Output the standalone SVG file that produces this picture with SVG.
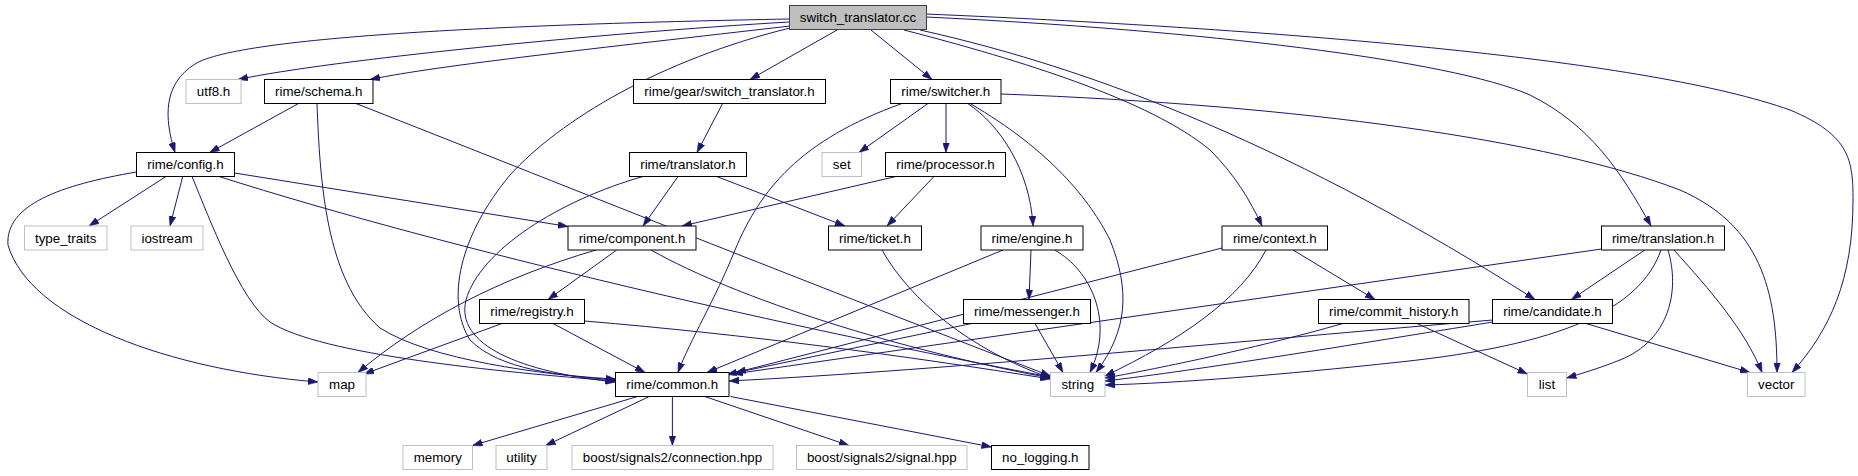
<svg xmlns="http://www.w3.org/2000/svg" width="1858" height="476" viewBox="0 0 1858 476">
<style>
text{font-family:"Liberation Sans",Arial,Helvetica,sans-serif;font-size:13.33px;text-anchor:middle;fill:#000}
.n rect{fill:#fff;stroke:#000;stroke-width:1}
.x rect{fill:#fff;stroke:#bfbfbf;stroke-width:1}
.m rect{fill:#bfbfbf;stroke:#404040;stroke-width:1}
#edges path{fill:none;stroke:#191970;stroke-width:1;marker-end:url(#a)}
</style>
<defs>
<marker id="a" markerWidth="10" markerHeight="7" refX="10" refY="3.5" orient="auto" markerUnits="userSpaceOnUse"><path d="M0,0 L10,3.5 L0,7 z" fill="#191970" stroke="#191970" stroke-width="0.5"/></marker>
</defs>
<rect width="1858" height="476" fill="#fff"/>
<g id="edges">
<path d="M789,19 C520,24 240,36 195,64 C163,84 164,118 175,152.5"/>
<path d="M789,22 C600,33 330,60 238,79.5"/>
<path d="M790,26 C600,48 440,65 370,79.5"/>
<path d="M837,30 L750,79.5"/>
<path d="M871,30 L932,79.5"/>
<path d="M790,28 C660,60 560,120 510,175 C460,235 445,300 470,340 C500,370 560,376 615.5,379"/>
<path d="M298.5,103.5 L209.6,152.5"/>
<path d="M317,103.5 C320,180 325,280 380,328 C430,360 540,374 615.5,380"/>
<path d="M356,103.5 C500,160 800,280 1050.5,376"/>
<path d="M166,176.5 L89,226"/>
<path d="M182.7,176.5 L170,226"/>
<path d="M136.5,172 C60,185 5,205 8,245 C30,320 170,370 318,382"/>
<path d="M192,176.5 C210,220 240,300 270,322 C320,355 500,372 615.5,381"/>
<path d="M219,176.5 C450,250 800,330 1050.5,377"/>
<path d="M234.5,173 L568,226.5"/>
<path d="M722.6,103.5 L697,152.5"/>
<path d="M678,176.5 L643,226"/>
<path d="M716.7,176.5 L845,226"/>
<path d="M643,176.5 C560,200 480,250 466,300 C455,345 520,372 615.5,382"/>
<path d="M928,103.5 L859,152.5"/>
<path d="M946,103.5 L946,152.5"/>
<path d="M967.7,103.5 C1000,125 1030,170 1033,226"/>
<path d="M970,103.5 C1050,150 1090,200 1110,240 C1130,290 1128,330 1096,372.5"/>
<path d="M902,103.5 C800,140 760,190 735,250 C715,300 690,340 678,372.5"/>
<path d="M1001,94 C1300,105 1550,140 1680,190 C1760,225 1777,290 1777,372.5"/>
<path d="M904,30 C1020,60 1150,100 1210,150 C1235,175 1250,200 1262,226"/>
<path d="M920,30 C1100,70 1300,150 1535,299.5"/>
<path d="M926,17 C1200,30 1450,60 1530,95 C1590,125 1620,170 1651,226"/>
<path d="M926,14 C1300,30 1650,60 1790,110 C1850,135 1853,160 1853,200 C1853,280 1830,330 1792,372.5"/>
<path d="M1293,250 L1375,299.5"/>
<path d="M1266,250 C1240,300 1180,340 1105,376"/>
<path d="M1222,248 L736,372.5"/>
<path d="M1343,323.5 C1250,350 1150,370 1105,378"/>
<path d="M1417,323.5 L1527.5,374"/>
<path d="M1586,323.5 L1750,372.5"/>
<path d="M1493,322 C1350,345 1200,370 1105,381"/>
<path d="M1493,320 C1250,340 950,370 729,381"/>
<path d="M1644.8,250 L1571.4,299.5"/>
<path d="M1601.5,249 L733,374"/>
<path d="M1661,250 C1640,310 1560,345 1400,362 C1280,375 1180,383 1105,385"/>
<path d="M1668,250 C1680,290 1670,340 1620,360 C1600,368 1580,374 1566.5,378"/>
<path d="M1674,250 C1710,290 1745,330 1762,372.5"/>
<path d="M616.7,250 L548,299.5"/>
<path d="M596,250 C500,278 420,320 358,372.5"/>
<path d="M651,250 C740,300 900,350 1050.5,378"/>
<path d="M502,323.5 L364,374"/>
<path d="M553,323.5 L645,372.5"/>
<path d="M584.5,321 C750,335 900,355 1050.5,379"/>
<path d="M896,176.5 L682,226"/>
<path d="M934,176.5 L887,226"/>
<path d="M882,250 C910,300 970,350 1050.5,378"/>
<path d="M1031,250 L1029,299.5"/>
<path d="M1003,250 L707,372.5"/>
<path d="M1054.7,250 C1090,270 1115,320 1090,372.5"/>
<path d="M971.7,323.5 L727,374.5"/>
<path d="M1035,323.5 L1063,372.5"/>
<path d="M637.6,396.5 L472.5,445.5"/>
<path d="M649.4,396.5 L545.7,445.5"/>
<path d="M672.4,396.5 L672.4,445.5"/>
<path d="M704.8,396.5 L849,445.5"/>
<path d="M730.5,396.5 L991.5,447"/>
</g>
<g id="switch_translator_cc" class="m"><rect x="789.5" y="5.5" width="137" height="24"/><text x="858" y="22">switch_translator.cc</text></g>
<g id="utf8_h" class="x"><rect x="186" y="79.5" width="55" height="24"/><text x="213.5" y="96">utf8.h</text></g>
<g id="rime_schema_h" class="n"><rect x="264.5" y="79.5" width="108.5" height="24"/><text x="318.75" y="96">rime/schema.h</text></g>
<g id="rime_gear_switch_translator_h" class="n"><rect x="633.5" y="79.5" width="192" height="24"/><text x="729.5" y="96">rime/gear/switch_translator.h</text></g>
<g id="rime_switcher_h" class="n"><rect x="890.5" y="79.5" width="110.5" height="24"/><text x="945.75" y="96">rime/switcher.h</text></g>
<g id="rime_config_h" class="n"><rect x="136.5" y="152.5" width="98" height="24"/><text x="185.5" y="169">rime/config.h</text></g>
<g id="rime_translator_h" class="n"><rect x="629.5" y="152.5" width="117" height="24"/><text x="688" y="169">rime/translator.h</text></g>
<g id="set" class="x"><rect x="822" y="152.5" width="39.5" height="24"/><text x="841.75" y="169">set</text></g>
<g id="rime_processor_h" class="n"><rect x="885.5" y="152.5" width="120" height="24"/><text x="945.5" y="169">rime/processor.h</text></g>
<g id="type_traits" class="x"><rect x="24.5" y="226" width="82.5" height="24"/><text x="65.75" y="242.5">type_traits</text></g>
<g id="iostream" class="x"><rect x="131" y="226" width="72" height="24"/><text x="167" y="242.5">iostream</text></g>
<g id="rime_component_h" class="n"><rect x="568" y="226" width="128" height="24"/><text x="632" y="242.5">rime/component.h</text></g>
<g id="rime_ticket_h" class="n"><rect x="828.5" y="226" width="93" height="24"/><text x="875" y="242.5">rime/ticket.h</text></g>
<g id="rime_engine_h" class="n"><rect x="981" y="226" width="102" height="24"/><text x="1032" y="242.5">rime/engine.h</text></g>
<g id="rime_context_h" class="n"><rect x="1222" y="226" width="105.5" height="24"/><text x="1274.75" y="242.5">rime/context.h</text></g>
<g id="rime_translation_h" class="n"><rect x="1601.5" y="226" width="123" height="24"/><text x="1663" y="242.5">rime/translation.h</text></g>
<g id="rime_registry_h" class="n"><rect x="479.5" y="299.5" width="105" height="24"/><text x="532" y="316">rime/registry.h</text></g>
<g id="rime_messenger_h" class="n"><rect x="963.5" y="299.5" width="127" height="24"/><text x="1027" y="316">rime/messenger.h</text></g>
<g id="rime_commit_history_h" class="n"><rect x="1318.5" y="299.5" width="150.5" height="24"/><text x="1393.75" y="316">rime/commit_history.h</text></g>
<g id="rime_candidate_h" class="n"><rect x="1492.5" y="299.5" width="120" height="24"/><text x="1552.5" y="316">rime/candidate.h</text></g>
<g id="map" class="x"><rect x="318" y="372.5" width="48" height="24"/><text x="342" y="389">map</text></g>
<g id="rime_common_h" class="n"><rect x="615.5" y="372.5" width="113.5" height="24"/><text x="672.25" y="389">rime/common.h</text></g>
<g id="string" class="x"><rect x="1050.5" y="372.5" width="54.5" height="24"/><text x="1077.75" y="389">string</text></g>
<g id="list" class="x"><rect x="1527.5" y="372.5" width="39" height="24"/><text x="1547" y="389">list</text></g>
<g id="vector" class="x"><rect x="1747.5" y="372.5" width="57.5" height="24"/><text x="1776.25" y="389">vector</text></g>
<g id="memory" class="x"><rect x="403" y="445.5" width="69.5" height="24"/><text x="437.75" y="462">memory</text></g>
<g id="utility" class="x"><rect x="496" y="445.5" width="51" height="24"/><text x="521.5" y="462">utility</text></g>
<g id="boost_signals2_connection_hpp" class="x"><rect x="572" y="445.5" width="201" height="24"/><text x="672.5" y="462">boost/signals2/connection.hpp</text></g>
<g id="boost_signals2_signal_hpp" class="x"><rect x="796.5" y="445.5" width="170.5" height="24"/><text x="881.75" y="462">boost/signals2/signal.hpp</text></g>
<g id="no_logging_h" class="n"><rect x="991.5" y="445.5" width="97.5" height="24"/><text x="1040.25" y="462">no_logging.h</text></g>
</svg>
